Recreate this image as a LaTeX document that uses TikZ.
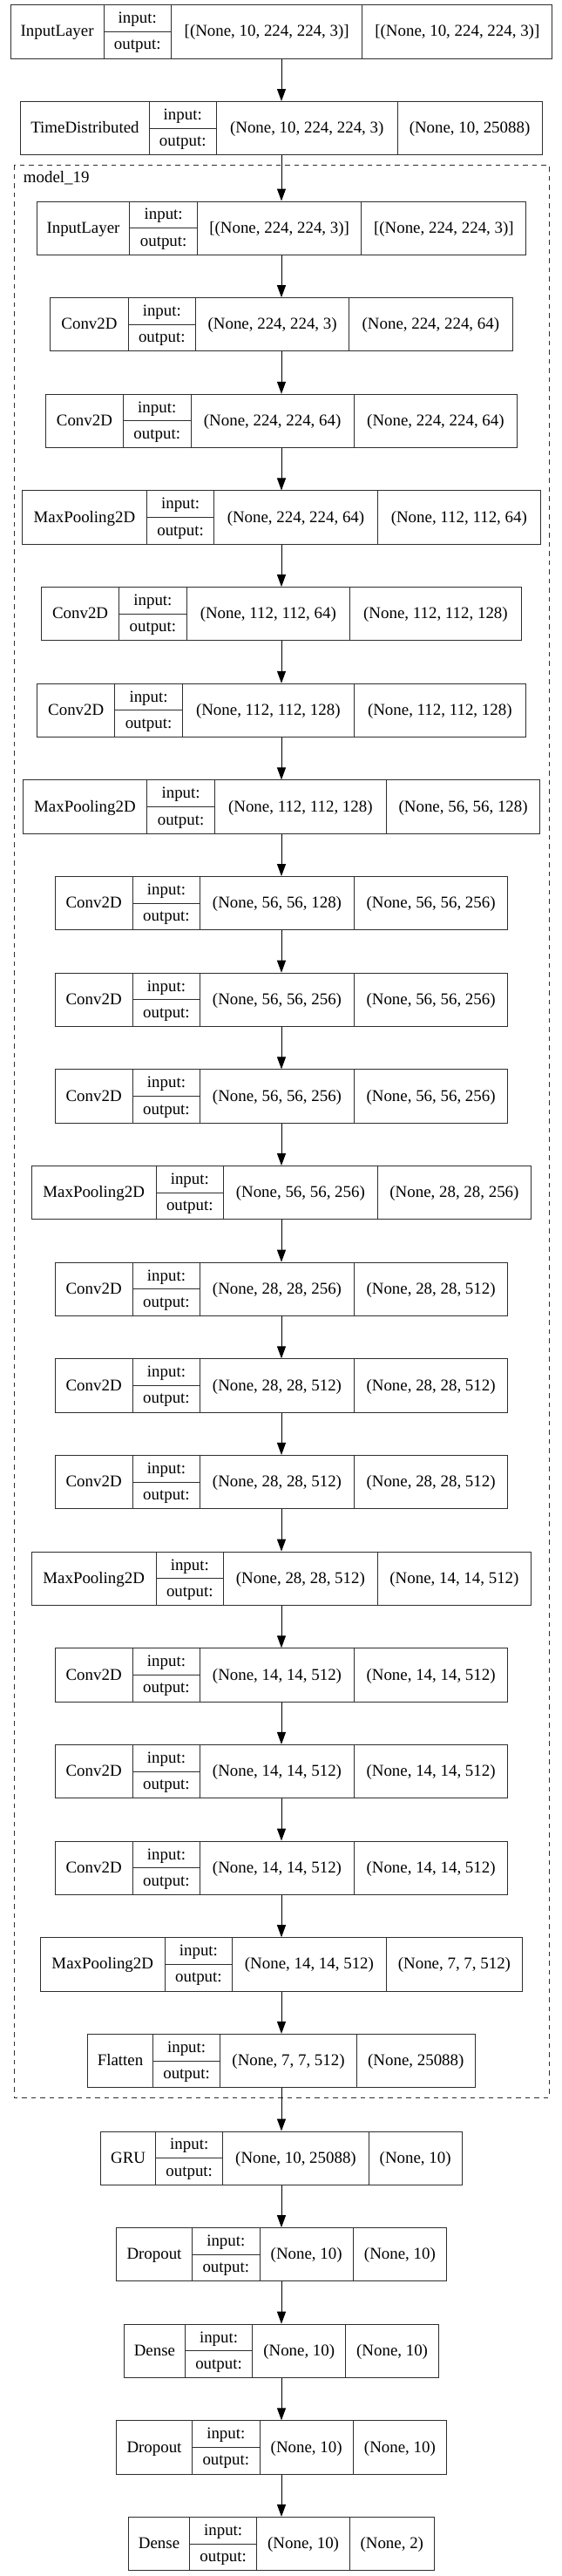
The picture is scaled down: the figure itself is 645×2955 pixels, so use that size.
\documentclass[tikz,border=0pt]{standalone}
\usepackage{fontspec}
\setmainfont{Liberation Serif}
\usetikzlibrary{arrows.meta}
\tikzset{
  layerbox/.style={draw=black!82, line width=1pt, inner sep=0pt, minimum height=61.3pt},
  cellline/.style={draw=black!82, line width=1pt},
  celltext/.style={anchor=base, inner sep=0pt, font=\fontsize{18.9}{22}\selectfont},
  arr/.style={draw=black, line width=1pt, -{Triangle[length=14pt,width=10pt]}},
  clusterbox/.style={draw=black!82, line width=1pt, dash pattern=on 5.5pt off 5pt},
}
\newcommand\kerasbox[8]{%
  \pgfmathsetmacro\tw{#3+77.5+#4+#5}%
  \pgfmathsetmacro\xl{323-\tw/2}%
  \pgfmathsetmacro\xa{\xl+#3}%
  \pgfmathsetmacro\xb{\xa+77.5}%
  \pgfmathsetmacro\xc{\xb+#4}%
  \pgfmathsetmacro\xr{\xl+\tw}%
  \pgfmathsetmacro\yt{#2}%
  \pgfmathsetmacro\ym{#2+30.65}%
  \pgfmathsetmacro\yb{#2+61.3}%
  \node[layerbox, minimum width=\tw pt] (#1) at (323,\ym) {};
  \draw[cellline] (\xa,\yt) -- (\xa,\yb) (\xb,\yt) -- (\xb,\yb) (\xc,\yt) -- (\xc,\yb) (\xa,\ym) -- (\xb,\ym);
  \node[celltext] (#1-l) at ({(\xl+\xa)/2},{\ym+5.6}) {#6};
  \node[celltext] (#1-i) at ({(\xa+\xb)/2},{\ym-15.3+5.6}) {input:};
  \node[celltext] (#1-o) at ({(\xa+\xb)/2},{\ym+15.3+5.2}) {output:};
  \node[celltext] (#1-s1) at ({(\xb+\xc)/2},{\ym+5.6}) {#7};
  \node[celltext] (#1-s2) at ({(\xc+\xr)/2},{\ym+5.6}) {#8};
}
\begin{document}
\begin{tikzpicture}[x=1pt,y=-1pt]
\useasboundingbox (0,0) rectangle (645,2955);
\fill[white] (0,0) rectangle (645,2955);
% cluster
\draw[clusterbox] (16,189.3) rectangle (630,2406);
\node[celltext, anchor=base west] (clabel) at (26.7,209.5) {model\_19};
% top
\kerasbox{L0}{5.7}{106.8}{219.4}{217.9}{InputLayer}{[(None, 10, 224, 224, 3)]}{[(None, 10, 224, 224, 3)]}
\kerasbox{L1}{116.5}{147.1}{207.5}{166.1}{TimeDistributed}{(None, 10, 224, 224, 3)}{(None, 10, 25088)}
% cluster layers
\kerasbox{C0}{231.0}{106.8}{188.5}{189}{InputLayer}{[(None, 224, 224, 3)]}{[(None, 224, 224, 3)]}
\kerasbox{C1}{341.65}{89.1}{176.2}{187.3}{Conv2D}{(None, 224, 224, 3)}{(None, 224, 224, 64)}
\kerasbox{C2}{452.3}{89.1}{187.3}{187.3}{Conv2D}{(None, 224, 224, 64)}{(None, 224, 224, 64)}
\kerasbox{C3}{562.95}{142.8}{187.3}{187.3}{MaxPooling2D}{(None, 224, 224, 64)}{(None, 112, 112, 64)}
\kerasbox{C4}{673.6}{89.1}{187.3}{197}{Conv2D}{(None, 112, 112, 64)}{(None, 112, 112, 128)}
\kerasbox{C5}{784.25}{89.1}{197}{197}{Conv2D}{(None, 112, 112, 128)}{(None, 112, 112, 128)}
\kerasbox{C6}{894.9}{142.8}{197}{176.6}{MaxPooling2D}{(None, 112, 112, 128)}{(None, 56, 56, 128)}
\kerasbox{C7}{1005.55}{89.1}{176.6}{176.6}{Conv2D}{(None, 56, 56, 128)}{(None, 56, 56, 256)}
\kerasbox{C8}{1116.2}{89.1}{176.6}{176.6}{Conv2D}{(None, 56, 56, 256)}{(None, 56, 56, 256)}
\kerasbox{C9}{1226.85}{89.1}{176.6}{176.6}{Conv2D}{(None, 56, 56, 256)}{(None, 56, 56, 256)}
\kerasbox{C10}{1337.5}{142.8}{176.6}{176.6}{MaxPooling2D}{(None, 56, 56, 256)}{(None, 28, 28, 256)}
\kerasbox{C11}{1448.15}{89.1}{176.6}{176.6}{Conv2D}{(None, 28, 28, 256)}{(None, 28, 28, 512)}
\kerasbox{C12}{1558.8}{89.1}{176.6}{176.6}{Conv2D}{(None, 28, 28, 512)}{(None, 28, 28, 512)}
\kerasbox{C13}{1669.45}{89.1}{176.6}{176.6}{Conv2D}{(None, 28, 28, 512)}{(None, 28, 28, 512)}
\kerasbox{C14}{1780.1}{142.8}{176.6}{176.6}{MaxPooling2D}{(None, 28, 28, 512)}{(None, 14, 14, 512)}
\kerasbox{C15}{1890.75}{89.1}{176.6}{176.6}{Conv2D}{(None, 14, 14, 512)}{(None, 14, 14, 512)}
\kerasbox{C16}{2001.4}{89.1}{176.6}{176.6}{Conv2D}{(None, 14, 14, 512)}{(None, 14, 14, 512)}
\kerasbox{C17}{2112.05}{89.1}{176.6}{176.6}{Conv2D}{(None, 14, 14, 512)}{(None, 14, 14, 512)}
\kerasbox{C18}{2222.7}{142.8}{176.6}{156.4}{MaxPooling2D}{(None, 14, 14, 512)}{(None, 7, 7, 512)}
\kerasbox{C19}{2333.35}{74.7}{156.4}{136.1}{Flatten}{(None, 7, 7, 512)}{(None, 25088)}
% bottom
\kerasbox{B0}{2445}{62.7}{167.1}{107.2}{GRU}{(None, 10, 25088)}{(None, 10)}
\kerasbox{B1}{2555.6}{87.1}{107.2}{107.3}{Dropout}{(None, 10)}{(None, 10)}
\kerasbox{B2}{2666.2}{69.8}{106.9}{106.8}{Dense}{(None, 10)}{(None, 10)}
\kerasbox{B3}{2776.8}{87.1}{107.2}{107.3}{Dropout}{(None, 10)}{(None, 10)}
\kerasbox{B4}{2887.4}{69.7}{106.4}{97}{Dense}{(None, 10)}{(None, 2)}
% arrows
\draw[arr] (L0.south) -- (L1.north);
\draw[arr] (L1.south) -- (C0.north);
\foreach \a/\b in {C0/C1,C1/C2,C2/C3,C3/C4,C4/C5,C5/C6,C6/C7,C7/C8,C8/C9,C9/C10,C10/C11,C11/C12,C12/C13,C13/C14,C14/C15,C15/C16,C16/C17,C17/C18,C18/C19,C19/B0,B0/B1,B1/B2,B2/B3,B3/B4}
  \draw[arr] (\a.south) -- (\b.north);
\end{tikzpicture}
\end{document}
